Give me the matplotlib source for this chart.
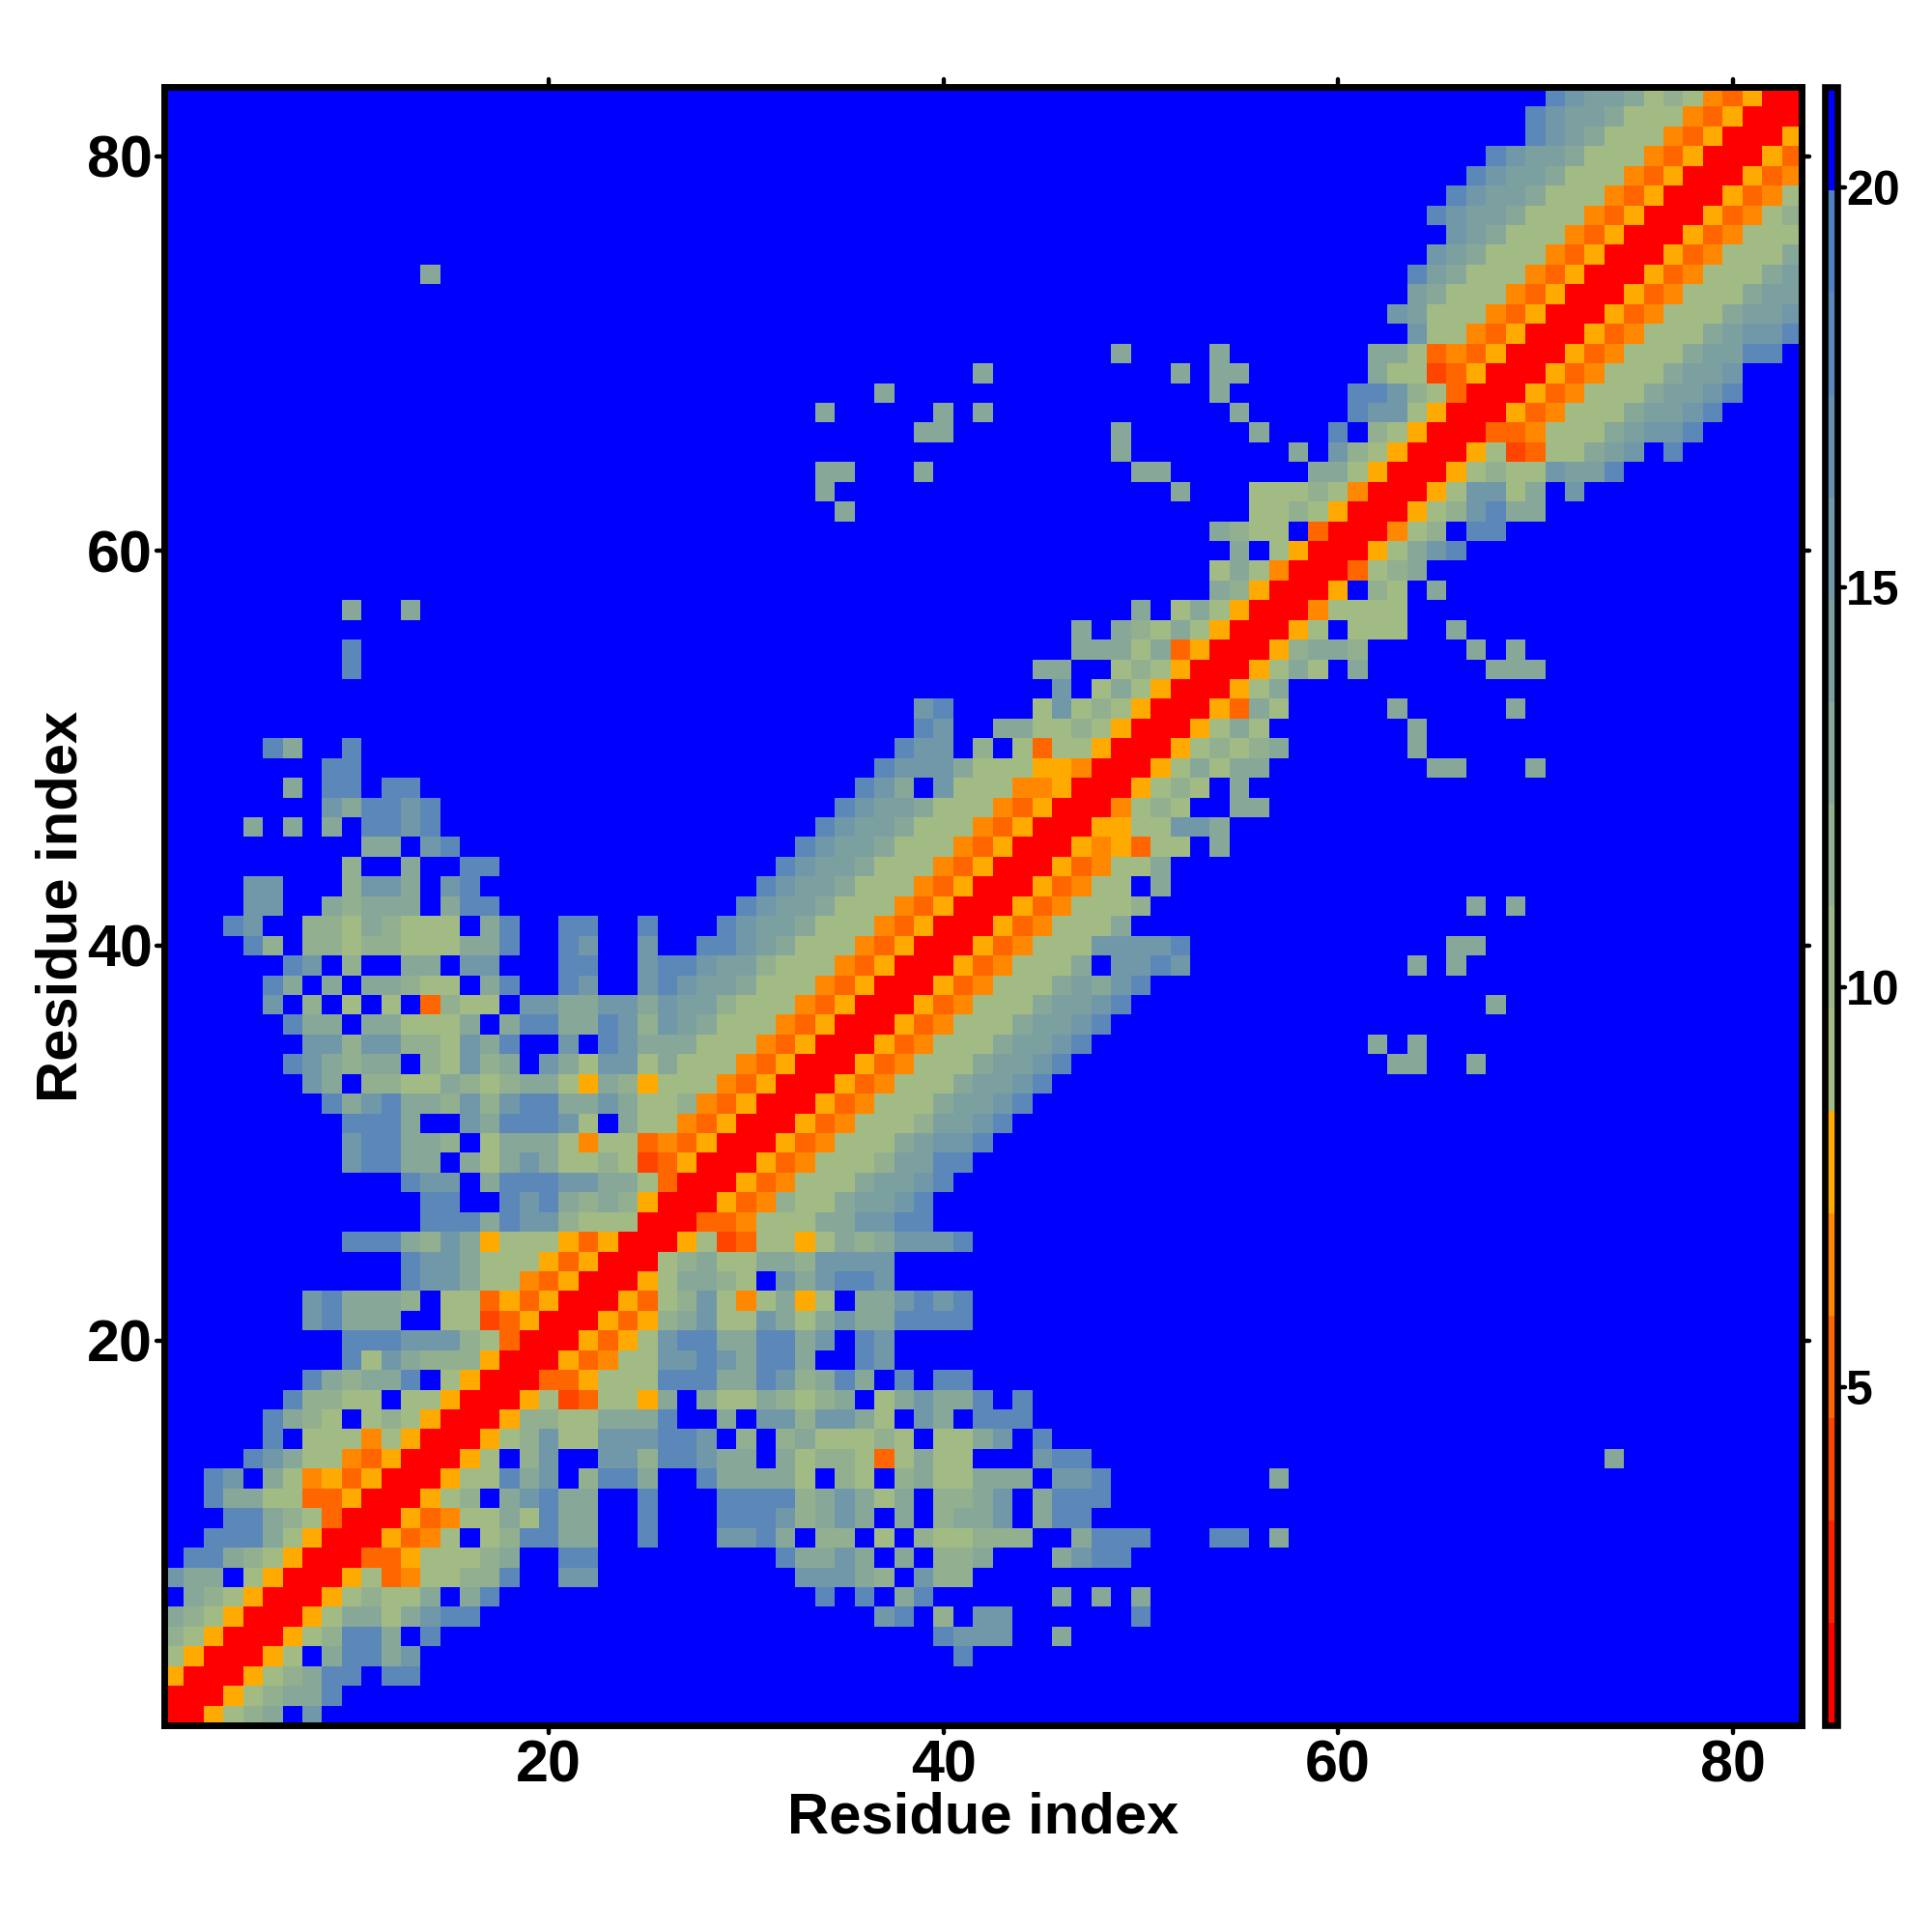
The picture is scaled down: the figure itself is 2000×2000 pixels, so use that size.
import numpy as np
import matplotlib
matplotlib.use("Agg")
import matplotlib.pyplot as plt
from matplotlib.colors import ListedColormap, BoundaryNorm
from matplotlib.markers import MarkerStyle

plt.rcParams['font.family'] = ['Liberation Sans', 'DejaVu Sans']
plt.rcParams['font.weight'] = 'bold'

N_RES = 83
# distance read for each colour letter (Angstrom); '.' = beyond the scale
LETTER_VALUE = {'R': 1.4, 'e': 4.0, 'd': 5.3, 'o': 6.6, 'a': 7.8,
                'g': 9.1, 'h': 11.7, 'i': 13.0, 'l': 14.2, 'j': 15.5, 'k': 18.1, '.': 21.0}

# (row, first column, letters); matrix is symmetric
SEGMENTS = [
 (1,1,"R"),(2,1,"RR"),(3,1,"aRR"),(4,1,"gaRR"),(5,1,"hgaRR"),(6,1,"ihgaRR"),
 (7,1,".ihgaRR"),(8,1,"jii.gaRR"),(9,1,".kkihgaRR"),(10,1,"..kkkigaRR"),
 (11,1,"...kkihgdRR"),(12,1,"..kiiggddaRR"),(13,1,"..kj.igoadaRR"),
 (14,1,"....kjiggodaRR"),(15,1,".....k.gggogaRR"),(16,1,".....kihg.ghgaRR"),
 (17,1,"......khhgg.ggaRR"),(18,1,".......kihiik.gaRR"),(19,1,".........kgjihhhaRR"),
 (20,1,".........kkkjjjhgdRR"),(21,1,".......jkiii..ggedaRR"),
 (22,1,".......jkiiih.ggdadaRR"),(23,1,"............kjjiggodaRR"),
 (24,1,"............kjjigggadaRR"),(25,1,".........kkkihjiagggadaRR"),
 (26,1,".............kkkikjjhgggRR"),(27,1,".............kk..kjkihihaRR"),
 (28,1,"............kjj.ikkkjjiigdRR"),
 (29,1,".........jkkii.igijigghgedaRR"),
 (30,1,".........jkkiih.giiigoggdodaRR"),
 (31,1,".........kkki..jikkkjg.iggodaRR"),
 (32,1,"........kijkiihjhjkkiijigghodaRR"),
 (33,1,".......ji.hhggihghiigaihagggodaRR"),
 (34,1,"......kjihii.hgjhi.jigjjgigggodaRR"),
 (35,1,".......jjhjjhhgjik..j.kjiiigggodaRR"),
 (36,1,"......kii.iigggi.ikkiikjhjligggodaRR"),
 (37,1,".....j.h.g.g.dhgg.jjiijjijllhgggodaRR"),
 (38,1,".....ki.i.iihgg.ik..kj..jkjlligggodaRR"),
 (39,1,"......kj.h..ii.jj...kk..jkkjllhgggodaRR"),
 (40,1,"....kh.hhghhgggiik..kj..j..kkjligggodaRR"),
 (41,1,"...kj..hhgihggg.ik..kk..k...kjlligggodaRR"),
 (42,5,"jj..ihiii.ikk"),(42,30,"kjlligggodaRR"),
 (43,5,"jj"),(43,10,"hjji.jk"),(43,31,"kjlligggodaRR"),
 (44,10,"h..i..kk"),(44,32,"kjlligggodaRR"),
 (45,11,"ii.jk"),(45,33,"kjlligggodaRR"),
 (46,5,"i"),(46,7,"i"),(46,9,"i"),(46,11,"kkjk"),(46,34,"kjlligggodaRR"),
 (47,9,"jikkjk"),(47,35,"kjlligggodaRR"),
 (48,7,"i"),(48,9,"kk"),(48,12,"kk"),(48,36,"kji.jgggooaRR"),
 (49,9,"kk"),(49,37,"kjjjigggaaoRR"),
 (50,6,"ki"),(50,10,"k"),(50,38,"kjj.h.gdggaRR"),
 (51,39,"kj..iigghgaRR"),
 (52,39,"jk"),(52,45,"gjghgaRR"),
 (53,46,"j.gigaRR"),
 (54,10,"k"),(54,45,"ii..ghgaRR"),
 (55,10,"k"),(55,47,"iiigidaRR"),
 (56,47,"i.ihgigaRR"),
 (57,10,"i"),(57,13,"i"),(57,50,"i.gigaRR"),
 (58,54,"ihaRR"),(59,54,"gigoRR"),(60,55,"i.gaRR"),(61,54,"ihgg.dRR"),
 (62,35,"i"),(62,56,"gghgaRR"),
 (63,34,"i"),(63,52,"i"),(63,56,"ggghgoRR"),
 (64,34,"ii"),(64,39,"i"),(64,50,"ii"),(64,59,"iigaRR"),
 (65,49,"i"),(65,58,"i"),(65,60,"jhgaRR"),
 (66,39,"ii"),(66,49,"i"),(66,56,"i"),(66,60,"k.hgaRR"),
 (67,34,"i"),(67,40,"i"),(67,42,"i"),(67,55,"i"),(67,61,"kjjgaRR"),
 (68,37,"i"),(68,54,"i"),(68,61,"kkjhgdRR"),
 (69,42,"i"),(69,52,"i"),(69,54,"ii"),(69,62,"iggedaRR"),
 (70,49,"i"),(70,54,"i"),(70,62,"iigdodaRR"),
 (71,64,"jggodaRR"),(72,63,"jlgggodaRR"),(73,64,"ligggodaRR"),
 (74,14,"i"),(74,64,"kligggodaRR"),(75,65,"jligggodaRR"),(76,66,"jligggodaRR"),
 (77,65,"kjlligggodaRR"),(78,66,"kjlligggodaRR"),(79,67,"kjlligggodaRR"),
 (80,68,"kjlligggodaRR"),(81,70,"kjligggodaRR"),(82,70,"kjlligggodaRR"),
 (83,71,"kjllighgodaRR"),
]

BIN_EDGES = [0.77, 2.05, 3.33, 4.61, 5.89, 7.17, 8.45, 9.73, 11.01, 12.29,
             13.57, 14.85, 16.13, 17.41, 18.69, 19.97, 21.26]
BIN_COLORS = ['#FF0000', '#FF2200', '#FF4400', '#FF6600', '#FF8800', '#FFAA00',
              '#A2BB85', '#9BB688', '#92B090', '#87A898', '#7CA0A0', '#7198A8',
              '#6690B0', '#5B88B8', '#5080C0', '#0000FF']
AXIS_TICKS = [20, 40, 60, 80]
CBAR_TICKS = [5, 10, 15, 20]
AXIS_LABEL = "Residue index"

dist = np.full((N_RES, N_RES), LETTER_VALUE['.'])
for row, col, letters in SEGMENTS:
    for k, ch in enumerate(letters):
        v = LETTER_VALUE[ch]
        dist[row - 1, col - 1 + k] = v
        dist[col - 1 + k, row - 1] = v

W = H = 2000
fig = plt.figure(figsize=(10, 10), dpi=200, facecolor='white')
def box(l, t, r, b):
    return [l / W, 1 - b / H, (r - l) / W, (b - t) / H]

ax = fig.add_axes(box(170, 90, 1865, 1786))
cmap = ListedColormap(BIN_COLORS)
norm = BoundaryNorm(BIN_EDGES, cmap.N, clip=True)
edges = np.arange(N_RES + 1) + 0.5
mesh = ax.pcolormesh(edges, edges, dist, cmap=cmap, norm=norm, rasterized=True)
ax.set_xlim(0.5, 83.5)
ax.set_ylim(0.5, 83.5)
ax.set_xticks(AXIS_TICKS)
ax.set_yticks(AXIS_TICKS)
ax.tick_params(axis='both', which='major', top=True, right=True, length=3.0, width=1.6,
               direction='out', labelsize=22)
ax.tick_params(axis='x', pad=2.2)
ax.tick_params(axis='y', pad=1.3)
for s in ax.spines.values():
    s.set_linewidth(2.5)
ax.set_xlabel(AXIS_LABEL, fontsize=21.5, fontweight='bold', labelpad=-1.0)
ax.set_ylabel(AXIS_LABEL, fontsize=21.5, fontweight='bold', labelpad=-0.5)

cax = fig.add_axes(box(1889, 90, 1902, 1786))
cb = fig.colorbar(mesh, cax=cax, boundaries=BIN_EDGES, spacing='proportional', ticks=CBAR_TICKS)
cb.ax.tick_params(length=3.0, width=1.6, labelsize=18, pad=0.2, right=True)
cb.ax.minorticks_off()
cb.outline.set_linewidth(2.4)
cb.dividers.set_visible(False)
for lab in cb.ax.get_yticklabels():
    lab.set_fontweight('bold')
for a in (ax, cax):
    for t in a.xaxis.get_major_ticks() + a.yaxis.get_major_ticks():
        for ln in (t.tick1line, t.tick2line):
            ln.set_marker(MarkerStyle(ln.get_marker(), capstyle='round'))

fig.savefig('out.png', dpi=200, facecolor='white')
